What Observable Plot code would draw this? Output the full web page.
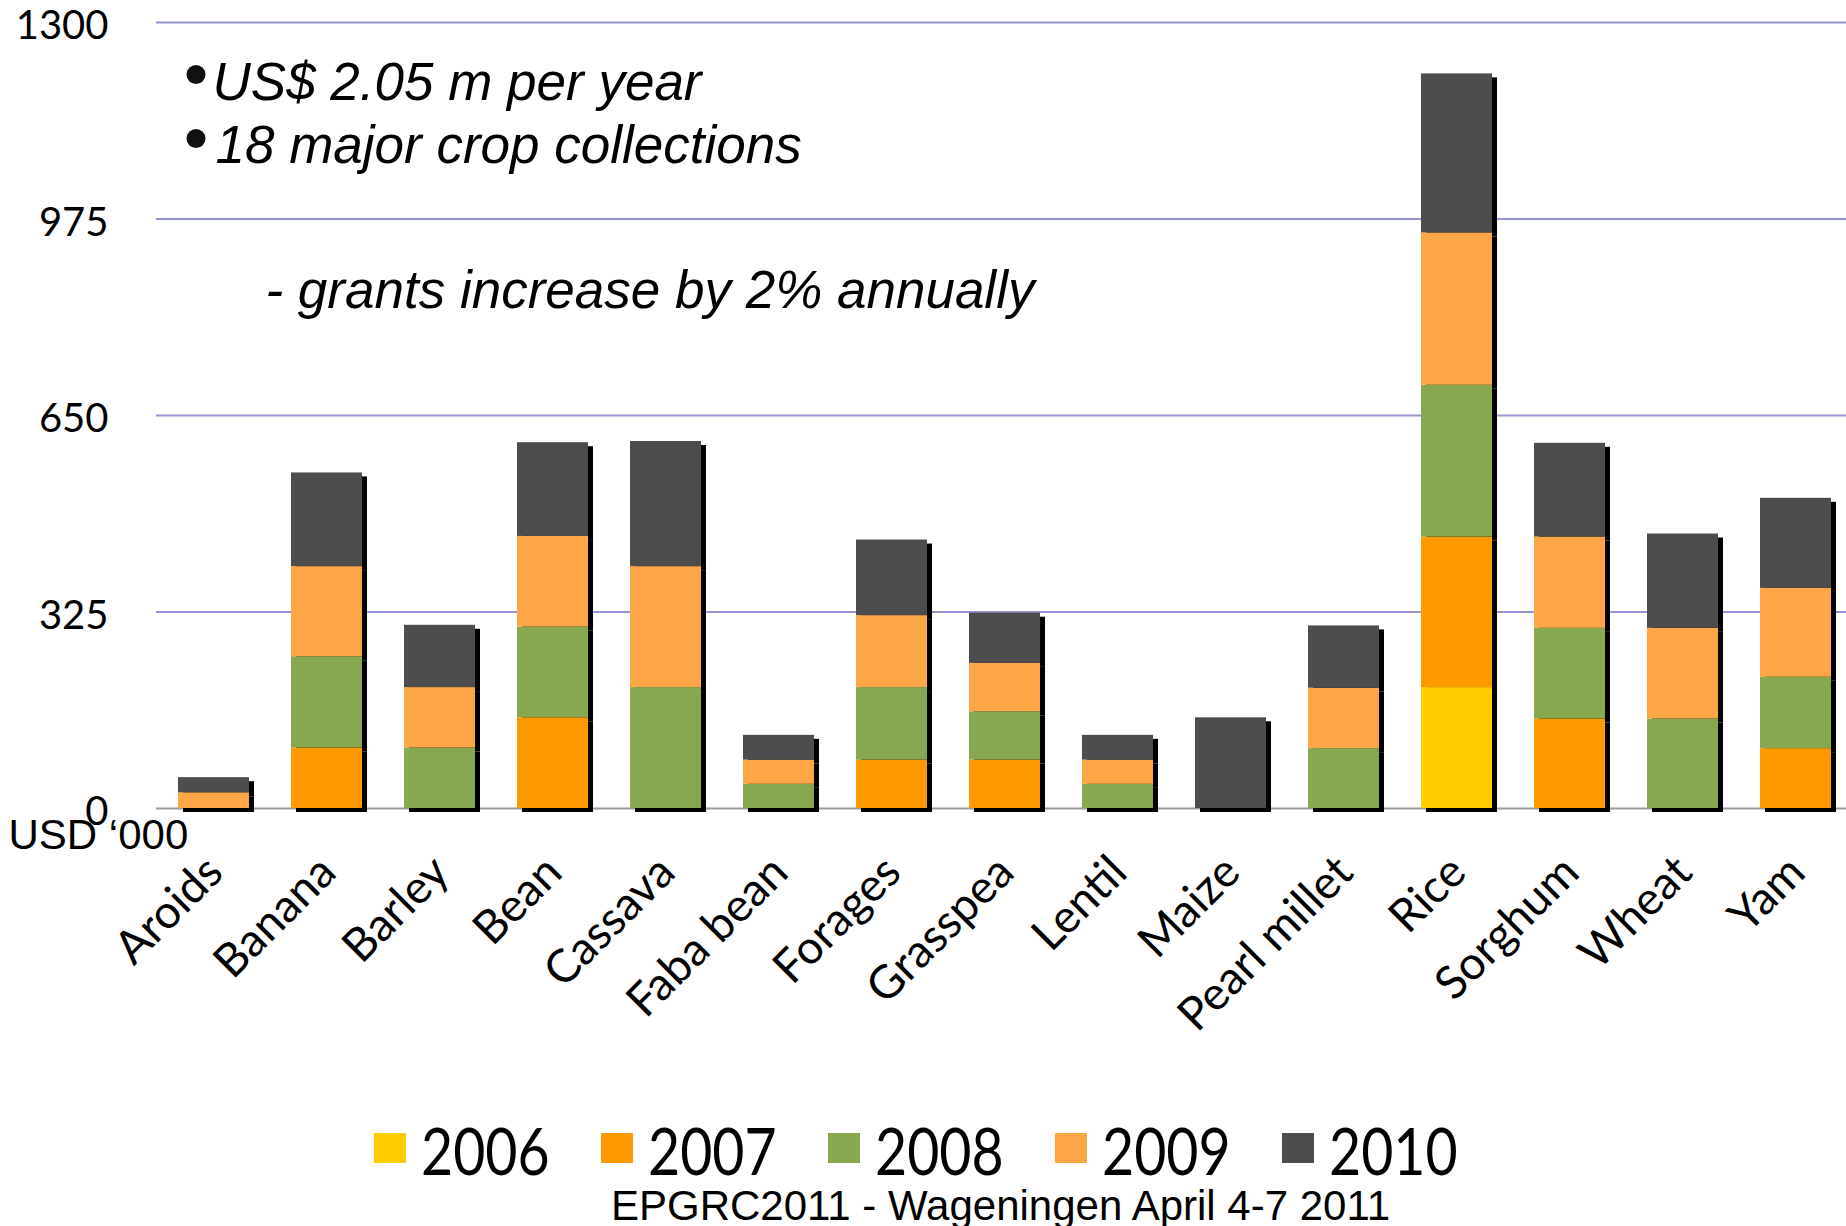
<!DOCTYPE html>
<html>
<head>
<meta charset="utf-8">
<script src="https://cdn.jsdelivr.net/npm/d3@7"></script>
<script src="https://cdn.jsdelivr.net/npm/@observablehq/plot@0.6"></script>
<style>
  html, body { margin: 0; padding: 0; background: #fff; }
  body { width: 1846px; height: 1226px; overflow: hidden; position: relative; }
  #chart { position: absolute; left: 0; top: 0; }
  .swatch { position: absolute; width: 32px; height: 30px; }
  .legend-label { position: absolute; font-family: Lato, sans-serif; font-size: 66px; line-height: 56px; color: #000; white-space: nowrap; transform: scaleX(0.84); transform-origin: 0 50%; }
  #footer { position: absolute; left: 611px; top: 1185px; font-family: "Liberation Sans", Arial, sans-serif; font-size: 42px; line-height: 42px; color: #000; white-space: nowrap; }
</style>
</head>
<body>
<div id="chart"></div>
<div id="legend"></div>
<div id="footer"></div>
<script>
// ---- data ----
const crops = ["Aroids", "Banana", "Barley", "Bean", "Cassava", "Faba bean", "Forages", "Grasspea", "Lentil", "Maize", "Pearl millet", "Rice", "Sorghum", "Wheat", "Yam"];
const years = ["2006", "2007", "2008", "2009", "2010"];
const v2006 = [0, 0, 0, 0, 0, 0, 0, 0, 0, 0, 0, 200, 0, 0, 0];
const v2007 = [0, 100, 0, 150, 0, 0, 80, 80, 0, 0, 0, 249, 148, 0, 99];
const v2008 = [0, 151, 100, 150, 200, 40, 120, 80, 40, 0, 99, 251, 150, 148, 118];
const v2009 = [26, 149, 100, 150, 200, 40, 119, 80, 40, 0, 100, 252, 151, 150, 147];
const v2010 = [25, 155, 103, 155, 207, 41, 125, 83, 41, 150, 103, 263, 155, 156, 149];
const yearColors = ["#FFCC00", "#FF9900", "#88A84F", "#FDA648", "#4D4D4D"];
const yTicks = [0, 325, 650, 975, 1300];
const yUnit = "USD \u2018000";
const notes = ["US$ 2.05 m per year", "18 major crop collections"];
const note3 = "- grants increase by 2% annually";
const footerText = "EPGRC2011 - Wageningen April 4-7 2011";

// ---- table built from arrays ----
const series = [v2006, v2007, v2008, v2009, v2010];
const rows = [];
crops.forEach((c, i) => {
  years.forEach((y, j) => {
    if (series[j][i] > 0) rows.push({crop: c, year: y, value: series[j][i]});
  });
});

const annFont = "'Liberation Sans', Arial, sans-serif";

const chart = Plot.plot({
  width: 1846,
  height: 1100,
  marginLeft: 156,
  marginRight: 0,
  marginTop: 22,
  marginBottom: 292,
  style: {fontFamily: "Lato, sans-serif", background: "white", color: "#000"},
  x: {domain: crops, paddingInner: 0.375, paddingOuter: 0.157, align: 0.59, axis: null},
  y: {domain: [0, 1300], axis: null},
  color: {domain: years, range: yearColors},
  marks: [
    Plot.gridY(yTicks.filter(t => t > 0), {stroke: "#9494d0", strokeOpacity: 1, strokeWidth: 2}),
    Plot.ruleY([0], {stroke: "#9a9a9a", strokeWidth: 2}),
    Plot.axisY(yTicks, {tickSize: 0, tickPadding: 48, fontSize: 40, fontFamily: "Lato, sans-serif", dy: 4, label: null, tickFormat: d => String(d)}),
    // shadows
    Plot.barY(rows, Plot.stackY({x: "crop", y: "value", fill: "#000", dx: 5, dy: 4})),
    // bars
    Plot.barY(rows, Plot.stackY({x: "crop", y: "value", fill: "year"})),
    // x labels
    Plot.text(crops, {x: d => d, frameAnchor: "bottom", rotate: -45, textAnchor: "end", lineAnchor: "middle", dx: 1, dy: 56, fontSize: 46, fontFamily: "Lato, sans-serif", fill: "#000"}),
    // unit label
    Plot.text([yUnit], {frameAnchor: "bottom-left", textAnchor: "start", lineAnchor: "top", dx: -148, dy: 11, fontSize: 42, fontFamily: annFont, fill: "#000"}),
    // bullets
    Plot.dot([notes[0]], {frameAnchor: "top-left", dx: 39.5, dy: 52, r: 9.5, fill: "#111", stroke: null}),
    Plot.dot([notes[1]], {frameAnchor: "top-left", dx: 39.5, dy: 116, r: 9.5, fill: "#111", stroke: null}),
    // annotations
    Plot.text([notes[0]], {frameAnchor: "top-left", textAnchor: "start", lineAnchor: "top", dx: 56, dy: 40, fontSize: 53, fontStyle: "italic", fontFamily: annFont, fill: "#000"}),
    Plot.text([notes[1]], {frameAnchor: "top-left", textAnchor: "start", lineAnchor: "top", dx: 59, dy: 103, fontSize: 53, fontStyle: "italic", fontFamily: annFont, fill: "#000"}),
    Plot.text([note3], {frameAnchor: "top-left", textAnchor: "start", lineAnchor: "top", dx: 109, dy: 248, fontSize: 53, fontStyle: "italic", fontFamily: annFont, fill: "#000"})
  ]
});
document.getElementById("chart").appendChild(chart);

// ---- legend ----
const legend = document.getElementById("legend");
years.forEach((y, j) => {
  const x0 = 374 + j * 227;
  const sw = document.createElement("div");
  sw.className = "swatch";
  sw.style.left = x0 + "px";
  sw.style.top = "1133px";
  sw.style.background = yearColors[j];
  legend.appendChild(sw);
  const lb = document.createElement("div");
  lb.className = "legend-label";
  lb.style.left = (x0 + 47) + "px";
  lb.style.top = "1122px";
  lb.textContent = y;
  legend.appendChild(lb);
});
document.getElementById("footer").textContent = footerText;
</script>
</body>
</html>
